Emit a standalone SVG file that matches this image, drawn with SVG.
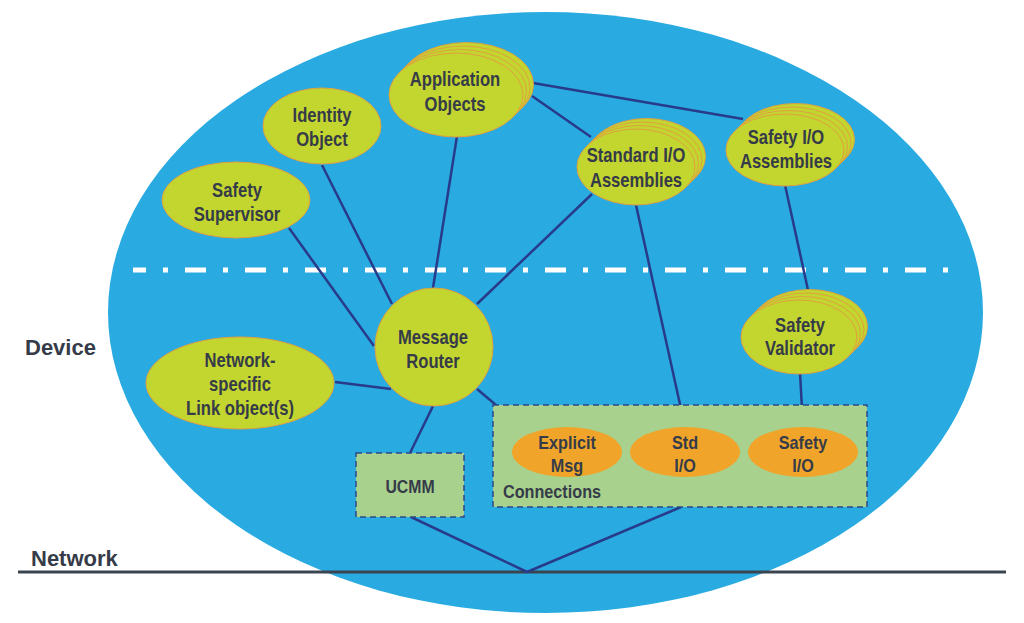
<svg xmlns="http://www.w3.org/2000/svg" width="1024" height="623" viewBox="0 0 1024 623">
<style>
.bg{fill:#29abe2}
.node{fill:#c3d52f;stroke:#e0a040;stroke-width:1}
.conn{fill:#f0a52a}
.box{fill:#a9d18e;stroke:#2e4a8a;stroke-width:1.5;stroke-dasharray:6 4}
.edge{stroke:#283a8a;stroke-width:2.5;fill:none}
.lbl{font-family:"Liberation Sans",Arial,sans-serif;font-weight:bold;font-size:20px;fill:#353b48;text-anchor:middle}
.sm{font-size:18px}
.big{font-family:"Liberation Sans",Arial,sans-serif;font-weight:bold;font-size:22px;fill:#353b48}
</style>
<rect width="1024" height="623" fill="#ffffff"/>
<ellipse class="bg" cx="545.5" cy="312.5" rx="437.5" ry="300.5"/>
<line x1="133" y1="270" x2="960" y2="270" stroke="#ffffff" stroke-width="5" stroke-dasharray="21 17 5 17" stroke-dashoffset="8"/>
<line x1="18" y1="572" x2="1006" y2="572" stroke="#3a4550" stroke-width="3"/>
<text class="big" x="25" y="355">Device</text>
<text class="big" x="31" y="566">Network</text>

<g id="connectors">
<line class="edge" x1="527" y1="572" x2="411" y2="517"/>
<line class="edge" x1="527" y1="572" x2="681" y2="507"/>
<line class="edge" x1="433" y1="406" x2="410" y2="453"/>
<line class="edge" x1="477" y1="389" x2="528" y2="432"/>
<line class="edge" x1="335" y1="382" x2="391" y2="389"/>
<line class="edge" x1="289" y1="228" x2="374" y2="346"/>
<line class="edge" x1="322" y1="165" x2="392" y2="304"/>
<line class="edge" x1="457" y1="136" x2="433" y2="288"/>
<line class="edge" x1="592" y1="194" x2="477" y2="304"/>
<line class="edge" x1="532" y1="96" x2="591" y2="137"/>
<line class="edge" x1="533" y1="83" x2="743" y2="119"/>
<line class="edge" x1="636" y1="205" x2="685" y2="427"/>
<line class="edge" x1="785" y1="185" x2="808" y2="290"/>
<line class="edge" x1="800" y1="373" x2="803" y2="427"/>
</g>

<g id="app-objects">
<ellipse class="node" cx="466.5" cy="84.5" rx="67" ry="42"/>
<ellipse class="node" cx="463" cy="88" rx="67" ry="42"/>
<ellipse class="node" cx="459.5" cy="91.5" rx="67" ry="42"/>
<ellipse class="node" cx="456" cy="95" rx="67" ry="42"/>
<text class="lbl" transform="translate(455 0) scale(0.83 1)"><tspan x="0" y="86.5">Application</tspan><tspan x="0" y="111.5">Objects</tspan></text>
</g>

<g id="identity-object">
<ellipse class="node" cx="322" cy="126" rx="59" ry="38"/>
<text class="lbl" transform="translate(322 0) scale(0.83 1)"><tspan x="0" y="122.5">Identity</tspan><tspan x="0" y="146.5">Object</tspan></text>
</g>

<g id="safety-supervisor">
<ellipse class="node" cx="236" cy="200" rx="74" ry="38"/>
<text class="lbl" transform="translate(237 0) scale(0.83 1)"><tspan x="0" y="197.5">Safety</tspan><tspan x="0" y="221.5">Supervisor</tspan></text>
</g>

<g id="standard-io-assemblies">
<ellipse class="node" cx="646.5" cy="156.5" rx="59" ry="38"/>
<ellipse class="node" cx="643" cy="160" rx="59" ry="38"/>
<ellipse class="node" cx="639.5" cy="163.5" rx="59" ry="38"/>
<ellipse class="node" cx="636" cy="167" rx="59" ry="38"/>
<text class="lbl" transform="translate(636 0) scale(0.83 1)"><tspan x="0" y="162.5">Standard I/O</tspan><tspan x="0" y="187.5">Assemblies</tspan></text>
</g>

<g id="safety-io-assemblies">
<ellipse class="node" cx="795.5" cy="139.5" rx="59" ry="36"/>
<ellipse class="node" cx="792" cy="143" rx="59" ry="36"/>
<ellipse class="node" cx="788.5" cy="146.5" rx="59" ry="36"/>
<ellipse class="node" cx="785" cy="150" rx="59" ry="36"/>
<text class="lbl" transform="translate(786 0) scale(0.83 1)"><tspan x="0" y="144.5">Safety I/O</tspan><tspan x="0" y="168.5">Assemblies</tspan></text>
</g>

<g id="safety-validator">
<ellipse class="node" cx="809.5" cy="326.5" rx="58" ry="37"/>
<ellipse class="node" cx="806" cy="330" rx="58" ry="37"/>
<ellipse class="node" cx="802.5" cy="333.5" rx="58" ry="37"/>
<ellipse class="node" cx="799" cy="337" rx="58" ry="37"/>
<text class="lbl" transform="translate(800 0) scale(0.83 1)"><tspan x="0" y="332.5">Safety</tspan><tspan x="0" y="355.5">Validator</tspan></text>
</g>

<g id="message-router">
<circle class="node" cx="434" cy="347" r="59"/>
<text class="lbl" transform="translate(433 0) scale(0.83 1)"><tspan x="0" y="344.5">Message</tspan><tspan x="0" y="368.5">Router</tspan></text>
</g>

<g id="network-link">
<ellipse class="node" cx="240" cy="383" rx="94" ry="46"/>
<text class="lbl" transform="translate(240 0) scale(0.83 1)"><tspan x="0" y="367.5">Network-</tspan><tspan x="0" y="391.5">specific</tspan><tspan x="0" y="415.5">Link object(s)</tspan></text>
</g>

<g id="ucmm">
<rect class="box" x="356" y="453" width="108" height="64"/>
<text class="lbl sm" transform="translate(410 0) scale(0.88 1)"><tspan x="0" y="493">UCMM</tspan></text>
</g>

<g id="connections">
<rect class="box" x="493" y="405" width="374" height="102"/>
<text class="lbl sm" style="text-anchor:start" transform="translate(503 0) scale(0.9 1)"><tspan x="0" y="498">Connections</tspan></text>
</g>

<g id="explicit-msg">
<ellipse class="conn" cx="567" cy="452" rx="55" ry="25"/>
<text class="lbl sm" transform="translate(567 0) scale(0.9 1)"><tspan x="0" y="449">Explicit</tspan><tspan x="0" y="472">Msg</tspan></text>
</g>

<g id="std-io">
<ellipse class="conn" cx="685" cy="452" rx="55" ry="25"/>
<text class="lbl sm" transform="translate(685 0) scale(0.9 1)"><tspan x="0" y="449">Std</tspan><tspan x="0" y="472">I/O</tspan></text>
</g>

<g id="safety-io">
<ellipse class="conn" cx="803" cy="452" rx="55" ry="25"/>
<text class="lbl sm" transform="translate(803 0) scale(0.9 1)"><tspan x="0" y="449">Safety</tspan><tspan x="0" y="472">I/O</tspan></text>
</g>
</svg>
